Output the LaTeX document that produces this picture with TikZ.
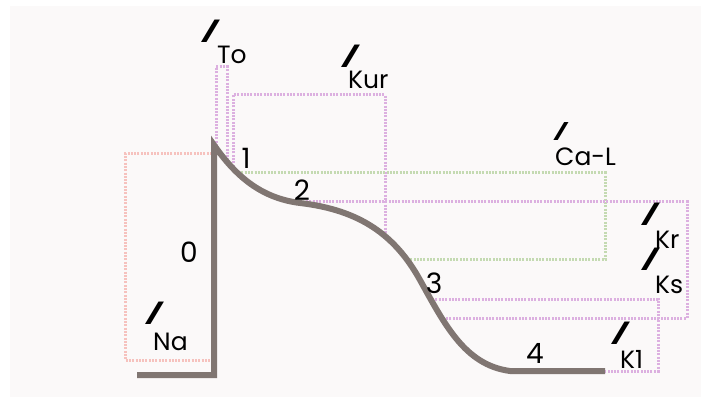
\documentclass[tikz,border=0pt]{standalone}
\usepackage{fontspec}
\setmainfont{Poppins}
\definecolor{bgpaper}{RGB}{251,249,249}
\definecolor{apline}{RGB}{128,118,114}
\definecolor{lilac}{RGB}{220,176,224}
\definecolor{sage}{RGB}{196,218,178}
\definecolor{salmon}{RGB}{246,194,190}
\begin{document}
\begin{tikzpicture}[x=1pt,y=-1pt,
  curdots/.style={line width=3pt,dash pattern=on 2pt off 1.3pt},
  pinkdots/.style={curdots,draw=lilac},
  greendots/.style={curdots,draw=sage},
  nadots/.style={curdots,draw=salmon},
  slashI/.style={inner sep=0pt,font=\fontsize{32}{32}\selectfont\bfseries,xslant=0.6},
  sublab/.style={inner sep=0pt,font=\fontsize{25}{25}\selectfont},
  phase/.style={inner sep=0pt,font=\fontsize{28}{28}\selectfont}]
\useasboundingbox (0,0) rectangle (705,401);
\fill[white] (0,0) rectangle (705,401);
\fill[bgpaper] (10,6) rectangle (701,397);
% I_Na
\draw[nadots] (212,154) -- (125,154) -- (125,360) -- (212,360);
% I_To
\draw[pinkdots] (216,146) -- (216,67) -- (227,67) -- (227,162);
% I_Kur
\draw[pinkdots] (233,170) -- (233,95) -- (385,95) -- (385,234);
% I_Ca-L
\draw[greendots] (238,173) -- (605,173) -- (605,260) -- (408,260);
% I_Kr / I_Ks
\draw[pinkdots] (306,202) -- (687,202) -- (687,318) -- (444,318);
% I_K1
\draw[pinkdots] (432,299) -- (658,299) -- (658,371) -- (605,371);
% action potential
\draw[apline,line width=6pt,line join=miter]
  (137,375) -- (214,375) -- (214,145)
  .. controls (235,175) and (260,198) .. (300,203)
  .. controls (360,210) and (395,235) .. (420,280)
  .. controls (445,325) and (465,365) .. (510,371)
  -- (605,371);
% phase numbers
\node[phase] (p0) at (189,252) {0};
\node[phase] (p1) at (246,158) {1};
\node[phase] (p2) at (302,190) {2};
\node[phase] (p3) at (434,283) {3};
\node[phase] (p4) at (535,353) {4};
% current labels
\node[slashI] (sTo) at (211,31) {I};
\node[sublab,anchor=south west] (tTo) at (217,64) {To};
\node[slashI] (sKur) at (351,56) {I};
\node[sublab,anchor=south west] (tKur) at (348,89) {Kur};
\node[slashI,scale=0.8] (sCa) at (561,132) {I};
\node[sublab,anchor=south west] (tCa) at (555,166) {Ca-L};
\node[slashI] (sKr) at (651,214) {I};
\node[sublab,anchor=south west] (tKr) at (655,249) {Kr};
\node[slashI] (sKs) at (651,259) {I};
\node[sublab,anchor=south west] (tKs) at (655,294) {Ks};
\node[slashI] (sK1) at (621,333) {I};
\node[sublab,anchor=south west] (tK1) at (620,369) {K1};
\node[slashI] (sNa) at (155,313) {I};
\node[sublab,anchor=south west] (tNa) at (153,351) {Na};
\end{tikzpicture}
\end{document}
